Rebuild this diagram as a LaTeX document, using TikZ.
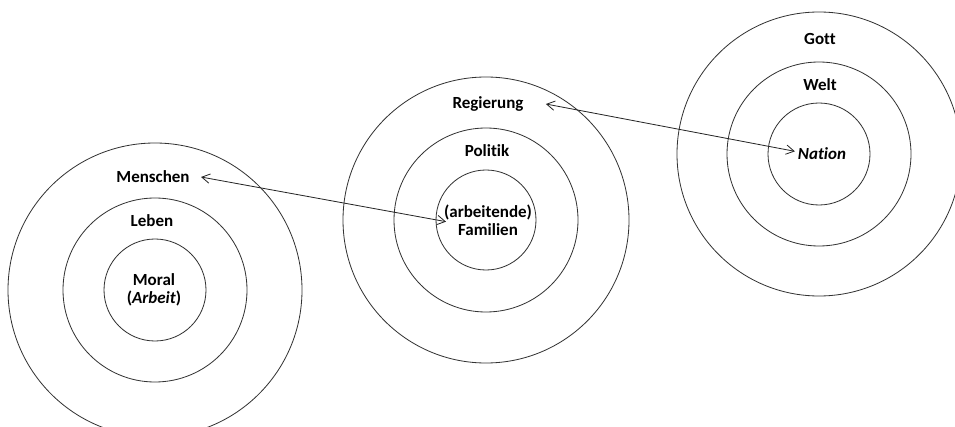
\documentclass[tikz,border=0pt]{standalone}
\usepackage{fontspec}
\setmainfont{Carlito}[Ligatures={NoCommon}]
\usetikzlibrary{arrows.meta}

\begin{document}
\begin{tikzpicture}[
  x=0.03cm,y=-0.03cm,
  ring/.style={draw=black!80,line width=0.7pt},
  lbl/.style={font=\fontsize{14.5}{15.5}\selectfont\bfseries,align=center,inner sep=1pt},
  link/.style={draw=black!85,line width=0.7pt,
    {Straight Barb[length=2.4mm,width=2.8mm]}-{Straight Barb[length=2.4mm,width=2.8mm]}}
]
\useasboundingbox (0,0) rectangle (955,427);

% the three sets of rings
\coordinate (mensch) at (155,290);
\coordinate (staat) at (486,220);
\coordinate (welt) at (819,154);
\draw[ring] (mensch) circle[radius=147];
\draw[ring] (mensch) circle[radius=92];
\draw[ring] (mensch) circle[radius=51];
\draw[ring] (staat) circle[radius=143];
\draw[ring] (staat) circle[radius=92];
\draw[ring] (staat) circle[radius=50];
\draw[ring] (welt) circle[radius=142];
\draw[ring] (welt) circle[radius=92];
\draw[ring] (welt) circle[radius=51];

\node[lbl] (menschen) at (153,177) {Menschen};
\node[lbl] (leben) at (152,221) {Leben};
\node[lbl] (moral) at (154,290) {Moral\\(\textit{Arbeit})};

\node[lbl] (regierung) at (488,104) {Regierung};
\node[lbl] (politik) at (487,151) {Politik};
\node[lbl] (familien) at (488,220) {(arbeitende)\\Familien};

\node[lbl] (gott) at (820,39) {Gott};
\node[lbl] (weltlbl) at (820,85) {Welt};
\node[lbl] (nation) at (822,154) {\textit{Nation}};

\draw[link] ([xshift=0.3cm]menschen.east) -- ([xshift=0.1cm,yshift=-0.05cm]familien.west);
\draw[link] ([xshift=0.63cm]regierung.east) -- ([xshift=-0.05cm,yshift=0.08cm]nation.west);
\end{tikzpicture}
\end{document}
